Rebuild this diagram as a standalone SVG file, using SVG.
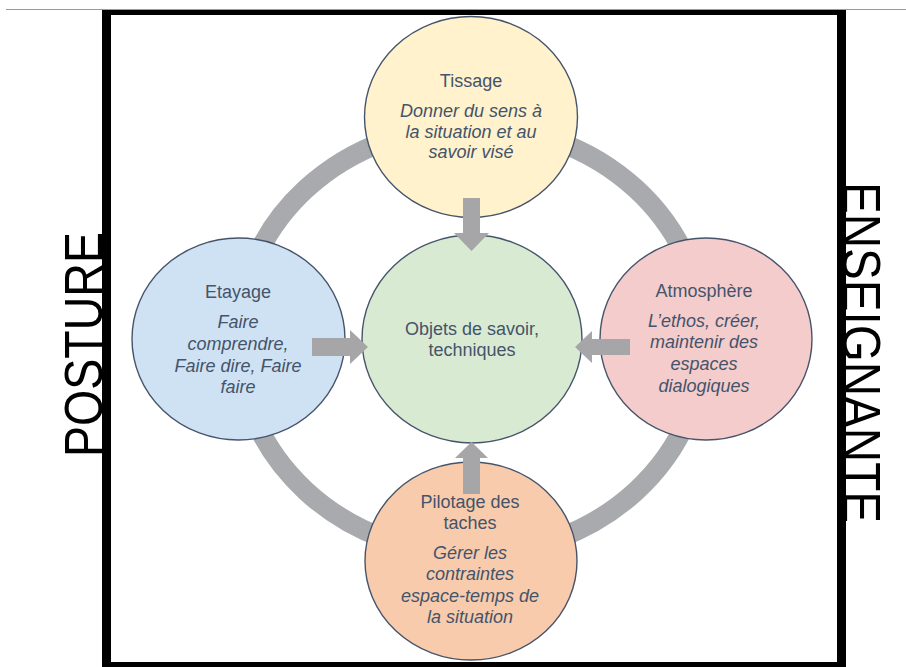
<svg xmlns="http://www.w3.org/2000/svg" width="906" height="667" viewBox="0 0 906 667">
<style>
  .node { stroke: #46546a; stroke-width: 1.4; }
  .t { font-family: "Liberation Sans", Arial, sans-serif; font-size: 18px; fill: #44546a; text-anchor: middle; }
  .i { font-style: italic; }
  .side { font-family: "Liberation Sans", Arial, sans-serif; font-size: 53px; fill: #000; text-anchor: middle; }
  .arrow { fill: #a6a6a8; }
</style>
<rect x="0" y="0" width="906" height="667" fill="#ffffff"/>
<line x1="6" y1="9.5" x2="906" y2="9.5" stroke="#9a9a9a" stroke-width="1"/>
<g id="frame" fill="#000">
  <rect x="102" y="10" width="744" height="5"/>
  <rect x="102" y="10" width="9" height="657"/>
  <rect x="837" y="10" width="9" height="657"/>
  <rect x="102" y="662" width="744" height="5"/>
</g>
<g id="cycle">
  <ellipse cx="471" cy="340" rx="233" ry="214" fill="none" stroke="#a8aaad" stroke-width="20"/>
</g>
<g id="tissage">
  <ellipse class="node" cx="471" cy="117" rx="106.5" ry="100.5" fill="#fff2cc"/>
  <text class="t" x="471" y="87">Tissage</text>
  <text class="t i" x="471" y="117">Donner du sens à</text>
  <text class="t i" x="471" y="138">la situation et au</text>
  <text class="t i" x="471" y="158">savoir visé</text>
</g>
<g id="etayage">
  <ellipse class="node" cx="238.5" cy="339" rx="106.5" ry="101" fill="#cfe2f3"/>
  <text class="t" x="238" y="298">Etayage</text>
  <text class="t i" x="238" y="328">Faire</text>
  <text class="t i" x="238" y="350">comprendre,</text>
  <text class="t i" x="238" y="372">Faire dire, Faire</text>
  <text class="t i" x="238" y="393">faire</text>
</g>
<g id="objets">
  <ellipse class="node" cx="472" cy="339" rx="110" ry="104" fill="#d9ead3"/>
  <text class="t" x="472" y="335">Objets de savoir,</text>
  <text class="t" x="472" y="356">techniques</text>
</g>
<g id="atmosphere">
  <ellipse class="node" cx="706" cy="339" rx="106" ry="101" fill="#f4cccc"/>
  <text class="t" x="704" y="297">Atmosphère</text>
  <text class="t i" x="704" y="327">L’ethos, créer,</text>
  <text class="t i" x="704" y="348">maintenir des</text>
  <text class="t i" x="704" y="370">espaces</text>
  <text class="t i" x="704" y="392">dialogiques</text>
</g>
<g id="pilotage">
  <ellipse class="node" cx="471" cy="561" rx="106" ry="99" fill="#f8cbad"/>
  <text class="t" x="470" y="508">Pilotage des</text>
  <text class="t" x="470" y="529">taches</text>
  <text class="t i" x="470" y="559">Gérer les</text>
  <text class="t i" x="470" y="580">contraintes</text>
  <text class="t i" x="470" y="602">espace-temps de</text>
  <text class="t i" x="470" y="623">la situation</text>
</g>
<g id="connectors">
  <polygon class="arrow" points="463,198 480,198 480,233 489,233 471.5,251 454,233 463,233"/>
  <polygon class="arrow" points="312,338 350,338 350,330 368,347 350,364 350,356 312,356"/>
  <polygon class="arrow" points="630,339 592,339 592,331 575,347 592,363 592,355 630,355"/>
  <polygon class="arrow" points="463,494 480,494 480,458 488,458 471.5,442 455,458 463,458"/>
</g>
<g id="labels">
  <text class="side" transform="translate(102,344.5) rotate(-90)" textLength="225" lengthAdjust="spacingAndGlyphs">POSTURE</text>
  <text class="side" transform="translate(843,352.5) rotate(90)" textLength="341" lengthAdjust="spacingAndGlyphs">ENSEIGNANTE</text>
</g>
</svg>
